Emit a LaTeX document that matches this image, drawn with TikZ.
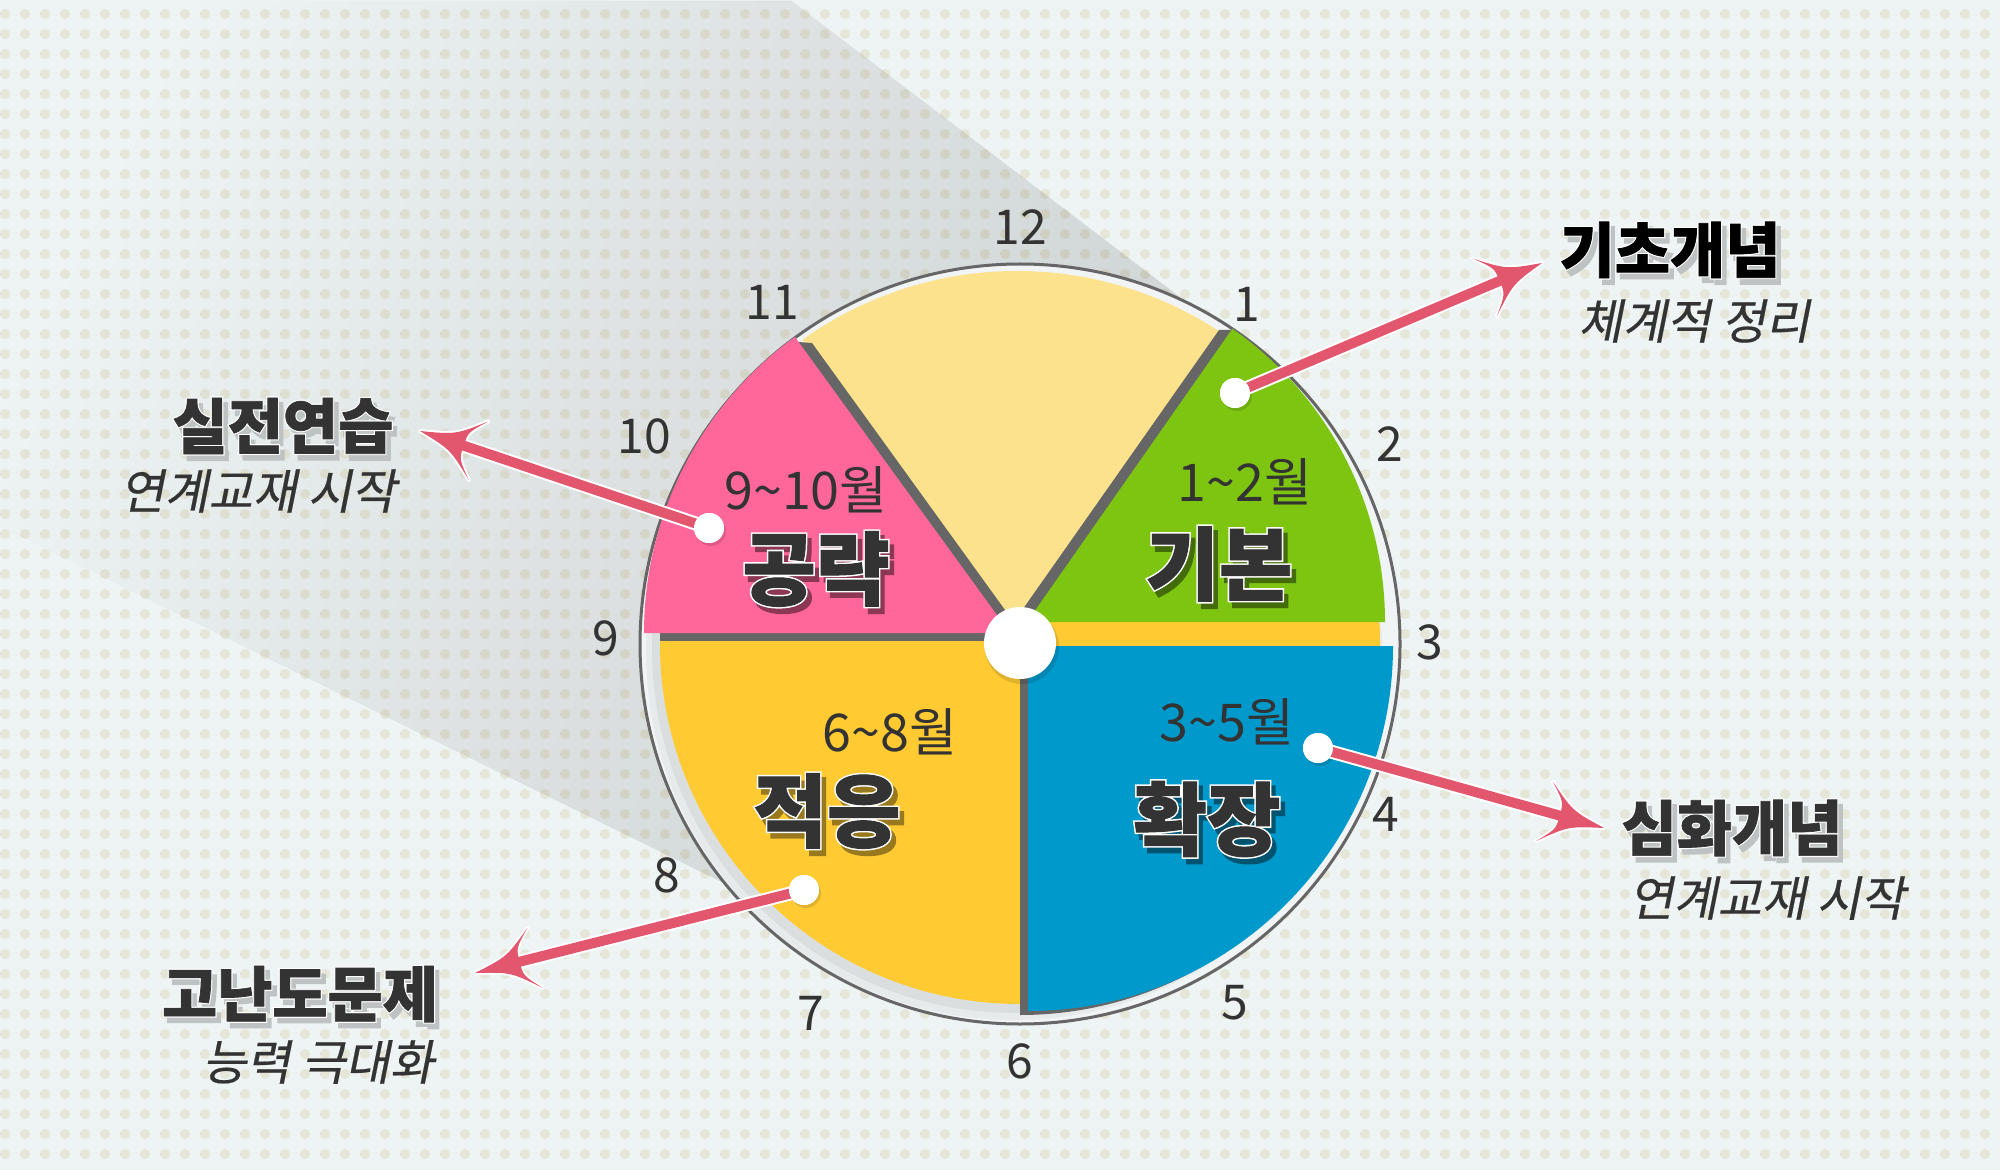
\documentclass[tikz,border=0pt]{standalone}
\usepackage{fontspec}
\newfontfamily\kr{Noto Sans CJK KR}
\newfontfamily\krH{Noto Sans CJK KR}[BoldFeatures={FakeBold=1.2}]
\newfontfamily\krO{Noto Sans CJK KR}[BoldFeatures={FakeBold=5}]
\newfontfamily\kri{Noto Sans CJK KR}[FakeSlant=0.2, FakeBold=0.4]
\usetikzlibrary{calc,fadings}
\definecolor{bgc}{HTML}{EEF3F3}
\definecolor{dotc}{HTML}{E6E6D8}
\definecolor{platec}{HTML}{F0F4F4}
\definecolor{ringc}{HTML}{666666}
\definecolor{paley}{HTML}{FCE28D}
\definecolor{greenc}{HTML}{7EC512}
\definecolor{bluec}{HTML}{0099CC}
\definecolor{pinkc}{HTML}{FF6699}
\definecolor{yellc}{HTML}{FFCA32}
\definecolor{sepc}{HTML}{666666}
\definecolor{arrc}{HTML}{E2566E}
\definecolor{txtc}{HTML}{333333}
\colorlet{shg}{greenc!55!black}
\colorlet{shp}{pinkc!55!black}
\colorlet{shy}{yellc!60!black}
\colorlet{shb}{bluec!55!black}
\colorlet{shbg}{bgc!80!black}
\tikzfading[name=beamfade, left color=transparent!100, right color=transparent!0]
\newcommand\fNum{\kr\fontsize{24}{28}\selectfont}
\newcommand\fMon{\kr\fontsize{26}{30}\selectfont}
\newcommand\fMain{\krH\bfseries\fontsize{40}{46}\selectfont}
\newcommand\fMainO{\krO\bfseries\fontsize{40}{46}\selectfont}
\newcommand\fTitle{\krH\bfseries\fontsize{30}{36}\selectfont}
\newcommand\fTitleO{\krO\bfseries\fontsize{30}{36}\selectfont}
\newcommand\fSub{\kri\fontsize{24}{28}\selectfont}
% decorative copies are marked so that they are not read as extra text
\newcommand\decor[1]{\special{pdf:literal direct /Span <</ActualText ()>> BDC}#1\special{pdf:literal direct EMC}}
% arrow head outline: #1 tip, #2 dot
\newcommand\headpath[2]{(#1) .. controls ($(#1)!17.9pt!12.9:(#2)$) .. ($(#1)!34.65pt!26.6:(#2)$) .. controls ($(#1)!24pt!16.9:(#2)$) .. ($(#1)!23pt!0:(#2)$) .. controls ($(#1)!24pt!-16.9:(#2)$) .. ($(#1)!34.65pt!-26.6:(#2)$) .. controls ($(#1)!17.9pt!-12.9:(#2)$) .. (#1) -- cycle}
% outlined text with shadow, one node: #1 name, #2 x, #3 y, #4 font, #5 outline font, #6 colour, #7 text, #8 shadow colour
\newcommand\fancy[8]{%
  \node[font=#4, inner sep=0] (#1) at (#2,#3)
    {\decor{\rlap{\smash{\kern2.2pt\raisebox{-2.8pt}{\color{#8}#5#7}}}\rlap{\color{white}#5#7}}\textcolor{#6}{#7}};
}
\newcommand\arrowfx[3]{% #1 tip, #2 dot node, #3 shaft end name
  \coordinate (#3) at ($(#1)!21pt!(#2)$);
  \draw[white, line width=7pt] (#2.center) -- (#3);
  \draw[white, line width=2pt, line join=round] \headpath{#1}{#2};
  \draw[arrc, line width=5pt] (#2.center) -- (#3);
  \fill[arrc] \headpath{#1}{#2};
}
\begin{document}
\begin{tikzpicture}[x=0.5pt,y=-0.5pt,
  num/.style={font=\fNum, text=txtc, inner sep=0},
  mon/.style={font=\fMon, text=txtc, inner sep=0},
  sub/.style={font=\fSub, text=txtc, inner sep=0},
  cdot/.style={circle, fill=white, minimum size=15pt, inner sep=0}]
\useasboundingbox (0,0) rectangle (2000,1170);
% background
\fill[bgc] (0,0) rectangle (2000,1170);
\foreach \j in {0,...,57} {\fill[dotc] \foreach \i in {0,...,99} {(5+20*\i,14+20*\j) circle (5)};}
% cast shadow beam
\fill[black, fill opacity=0.14, path fading=beamfade, fading angle=-20]
  (792,0) -- (1247,347) -- (1020,644) -- (867,953) -- (0,526) -- (0,0) -- cycle;
% clock plate
\fill[platec] (1020,644) circle (380);
\draw[ringc, line width=1.5pt] (1020,644) circle (380);
% soft shadow of the dial
\fill[black, opacity=0.04] (1014,652) circle (368);
\fill[black, opacity=0.05] (1016,649) circle (364);
% base yellow
\fill[yellc] (1020,644) circle (360);
\fill[sepc] (660,633) rectangle (1012,641);
% pale yellow 12 slice
\fill[paley] (1017,640) -- ++(-125.5:369) arc[start angle=-125.5, end angle=-56, radius=369] -- cycle;
\fill[sepc] (798,342) -- (812,343) -- (1018,628) -- (1009,633) -- cycle;
\fill[sepc] (1219,330) -- (1232,330) -- (1030,620) -- (1018,616) -- cycle;
% green
\fill[greenc] (1027,622) -- ++(-55:358) arc[start angle=-55, end angle=0, radius=358] -- cycle;
% blue with shadow
\fill[sepc] (1020,650) -- ++(0:365) arc[start angle=0, end angle=90, radius=365] -- cycle;
\fill[bluec] (1028,646) -- ++(0:365) arc[start angle=0, end angle=90, radius=365] -- cycle;
% pink
\fill[pinkc] (1010,633) -- ++(180:366) arc[start angle=180, end angle=234, radius=366] -- cycle;
% centre hub
\fill[black, opacity=0.12] (1022,647) circle (37);
\node[circle, fill=white, minimum size=36pt, inner sep=0] (hub) at (1020,643) {};
% clock numbers
\node[num] (n12) at (1020,227) {12};
\node[num] (n1) at (1247,304) {1};
\node[num] (n2) at (1390,444) {2};
\node[num] (n3) at (1430,642) {3};
\node[num] (n4) at (1386,814) {4};
\node[num] (n5) at (1235,1003) {5};
\node[num] (n6) at (1020,1061) {6};
\node[num] (n7) at (811,1013) {7};
\node[num] (n8) at (667,875) {8};
\node[num] (n9) at (606,638) {9};
\node[num] (n10) at (644,436) {10};
\node[num] (n11) at (772,302) {11};
% month labels
\node[mon] (m1) at (1245,482) {1\textasciitilde2월};
\node[mon] (m2) at (806,490) {9\textasciitilde10월};
\node[mon] (m3) at (890,732) {6\textasciitilde8월};
\node[mon] (m4) at (1227,722) {3\textasciitilde5월};
% slice titles
\fancy{lab1}{1219}{564}{\fMain}{\fMainO}{txtc}{기본}{shg}
\fancy{lab2}{816}{569}{\fMain}{\fMainO}{txtc}{공략}{shp}
\fancy{lab3}{827}{811}{\fMain}{\fMainO}{txtc}{적응}{shy}
\fancy{lab4}{1207}{819}{\fMain}{\fMainO}{txtc}{확장}{shb}
% connector dots
\fill[black, opacity=0.12] (1237,396) circle (15);
\fill[black, opacity=0.12] (711,531) circle (15);
\fill[black, opacity=0.12] (806,893) circle (15);
\fill[black, opacity=0.12] (1320,751) circle (15);
\node[cdot] (d1) at (1235,393) {};
\node[cdot] (d2) at (709,528) {};
\node[cdot] (d3) at (804,890) {};
\node[cdot] (d4) at (1318,748) {};
\coordinate (t1) at (1542,263);
\coordinate (t2) at (420,431);
\coordinate (t3) at (475,973);
\coordinate (t4) at (1604,828);
\arrowfx{t1}{d1}{e1}
\arrowfx{t2}{d2}{e2}
\arrowfx{t3}{d3}{e3}
\arrowfx{t4}{d4}{e4}
\node[cdot] (d1b) at (d1) {};
\node[cdot] (d2b) at (d2) {};
\node[cdot] (d3b) at (d3) {};
\node[cdot] (d4b) at (d4) {};
% side titles
\fancy{ti1}{1670}{250}{\fTitle}{\fTitleO}{black}{기초개념}{shbg}
\node[sub] (su1) at (1694,321) {체계적 정리};
\fancy{ti2}{283}{426}{\fTitle}{\fTitleO}{txtc}{실전연습}{shbg}
\node[sub] (su2) at (258,491) {연계교재 시작};
\fancy{ti3}{1732}{828}{\fTitle}{\fTitleO}{txtc}{심화개념}{shbg}
\node[sub] (su3) at (1767,898) {연계교재 시작};
\fancy{ti4}{300}{994}{\fTitle}{\fTitleO}{txtc}{고난도문제}{shbg}
\node[sub] (su4) at (318,1062) {능력 극대화};
\end{tikzpicture}
\end{document}
